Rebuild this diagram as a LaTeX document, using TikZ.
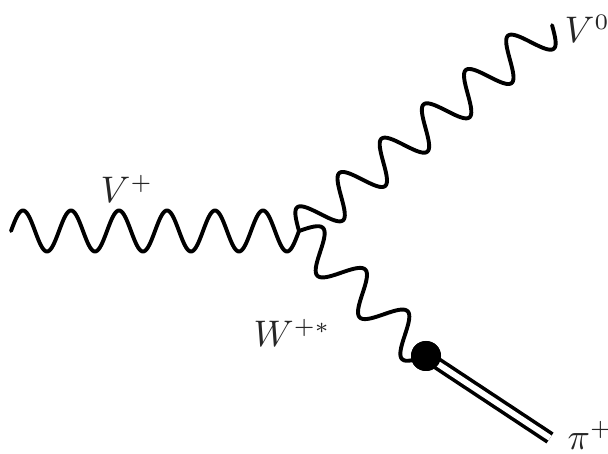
\documentclass[tikz,border=0pt]{standalone}
\DeclareMathSizes{10}{10}{6}{5}
\tikzset{
  boson/.style={line width=3.9pt,line cap=round,line join=round},
  label/.style={inner sep=0pt,anchor=base west,scale=3.7,text=black!85},
  blob/.style={circle,fill=black,inner sep=0pt,minimum size=30pt},
  meson/.style={line width=3.6pt,double=white,double distance=5.8pt}
}
% sine wave of #3 periods and amplitude #4 (pt) from named point #1 to named point #2
\newcommand\wave[4]{%
  \pgfpointanchor{#1}{center}\pgfgetlastxy\wax\way
  \pgfpointanchor{#2}{center}\pgfgetlastxy\wbx\wby
  \pgfmathsetmacro\wdx{\wbx-\wax}%
  \pgfmathsetmacro\wdy{\wby-\way}%
  \pgfmathsetmacro\wlen{veclen(\wdx,\wdy)}%
  \pgfmathsetmacro\wnx{-\wdy/\wlen}%
  \pgfmathsetmacro\wny{\wdx/\wlen}%
  \pgfmathsetmacro\wsamples{int(48*#3+1)}%
  \draw[boson,x=1pt,y=1pt] plot[smooth,domain=0:#3,samples=\wsamples,variable=\t]
    ({\wax+\wdx*(\t/#3)+#4*sin(360*\t)*\wnx},{\way+\wdy*(\t/#3)+#4*sin(360*\t)*\wny});
}
\begin{document}
\begin{tikzpicture}[x=1pt,y=-1pt]
\useasboundingbox (0,0) rectangle (608,454);
\coordinate (start) at (11,231);
\coordinate (vtx) at (299,231);
\coordinate (vend) at (552,25);
\node[blob] (dot) at (426,356) {};
\coordinate (piend) at (550,438);
\wave{start}{vtx}{6}{20.5}
\wave{vtx}{vend}{6}{19.5}
\wave{vtx}{dot}{3}{19}
\draw[meson] (dot.center) -- (piend);
\node[blob] at (dot.center) {};
\node[label] (lvp) at (100,203) {$V^+$};
\node[label] (lv0) at (564,43) {$V^0$};
\node[label] (lw) at (253,347) {$W^{+*}$};
\node[label] (lpi) at (567,449) {$\pi^+$};
\end{tikzpicture}
\end{document}
